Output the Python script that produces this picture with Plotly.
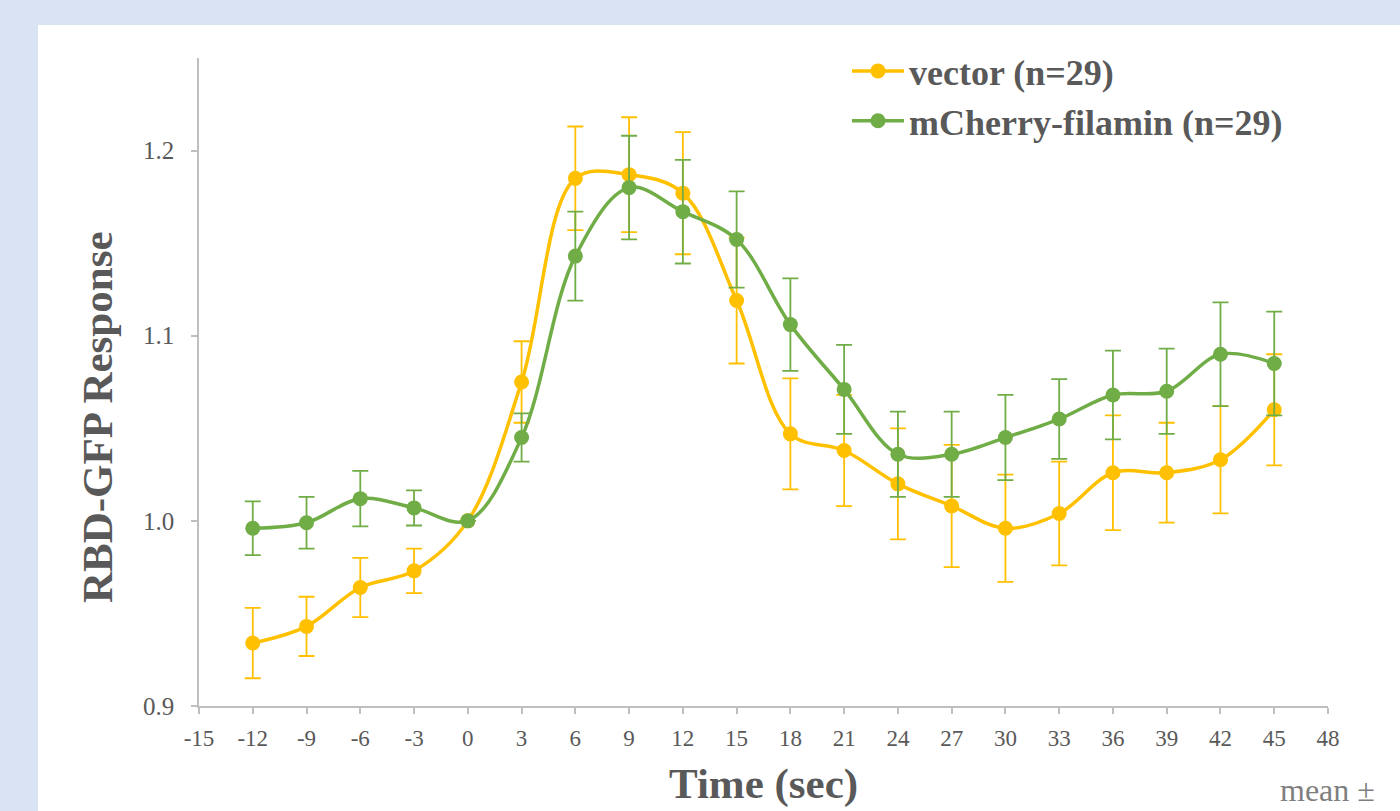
import plotly.graph_objects as go

time_sec = [-12, -9, -6, -3, 0, 3, 6, 9, 12, 15, 18, 21, 24, 27, 30, 33, 36, 39, 42, 45]

vector_mean = [0.934, 0.943, 0.964, 0.973, 1.000, 1.075, 1.185, 1.187, 1.177, 1.119,
               1.047, 1.038, 1.020, 1.008, 0.996, 1.004, 1.026, 1.026, 1.033, 1.060]
vector_err = [0.019, 0.016, 0.016, 0.012, 0.0, 0.022, 0.028, 0.031, 0.033, 0.034,
              0.030, 0.030, 0.030, 0.033, 0.029, 0.028, 0.031, 0.027, 0.029, 0.030]

filamin_mean = [0.996, 0.999, 1.012, 1.007, 1.000, 1.045, 1.143, 1.180, 1.167, 1.152,
                1.106, 1.071, 1.036, 1.036, 1.045, 1.055, 1.068, 1.070, 1.090, 1.085]
filamin_err = [0.0145, 0.014, 0.015, 0.0095, 0.0, 0.013, 0.024, 0.028, 0.028, 0.026,
               0.025, 0.024, 0.023, 0.023, 0.023, 0.0215, 0.024, 0.023, 0.028, 0.028]

series_names = ["vector (n=29)", "mCherry-filamin (n=29)"]
x_ticks = list(range(-15, 49, 3))
y_ticks = [0.9, 1.0, 1.1, 1.2]

YELLOW = "#FFC000"
GREEN = "#70AD47"
GREY = "#595959"
FONT = "Liberation Serif"

W, H = 1400, 811
ML, MR, MT, MB = 199, 72, 58, 105
PW = W - ML - MR
PH = H - MT - MB

fig = go.Figure()
for name, ys, es, col, grp in [
    (series_names[0], vector_mean, vector_err, YELLOW, "a"),
    (series_names[1], filamin_mean, filamin_err, GREEN, "b"),
]:
    fig.add_trace(go.Scatter(
        x=time_sec, y=ys, name="<b>" + name + "</b>", mode="lines+markers",
        legendgroup=grp,
        line=dict(color=col, width=3.5, shape="spline", smoothing=1.0),
        marker=dict(color=col, size=15),
        error_y=dict(type="data", array=es, visible=True, color=col,
                     thickness=1.8, width=8),
    ))

def px_to_paper_x(px):
    return (px - ML) / PW

def px_to_paper_y(py):
    return (H - MB - py) / PH

fig.add_shape(type="rect", xref="paper", yref="paper",
              x0=px_to_paper_x(38), x1=px_to_paper_x(W + 5),
              y0=px_to_paper_y(H + 5), y1=px_to_paper_y(25),
              fillcolor="white", line=dict(width=0), layer="below")

fig.add_annotation(text="<b>Time (sec)</b>", xref="paper", yref="paper",
                   x=px_to_paper_x(763), y=px_to_paper_y(784),
                   xanchor="center", yanchor="middle", showarrow=False,
                   font=dict(family=FONT, size=43, color=GREY))
fig.add_annotation(text="<b>RBD-GFP Response</b>", xref="paper", yref="paper",
                   x=px_to_paper_x(97), y=px_to_paper_y(418),
                   xanchor="center", yanchor="middle", showarrow=False,
                   textangle=-90,
                   font=dict(family=FONT, size=43, color=GREY))
fig.add_annotation(text="mean ±", xref="paper", yref="paper",
                   x=px_to_paper_x(1278), y=px_to_paper_y(790),
                   xanchor="left", yanchor="middle", showarrow=False,
                   font=dict(family=FONT, size=32, color="#7F7F7F"))

fig.update_layout(
    width=W, height=H,
    margin=dict(l=ML, r=MR, t=MT, b=MB, autoexpand=False),
    paper_bgcolor="#DAE3F3",
    plot_bgcolor="white",
    showlegend=True,
    legend=dict(x=px_to_paper_x(847), y=px_to_paper_y(41), xanchor="left", yanchor="top",
                bgcolor="rgba(0,0,0,0)", tracegroupgap=0,
                font=dict(family=FONT, size=36, color=GREY),
                itemwidth=52),
    font=dict(family=FONT, color=GREY),
    xaxis=dict(range=[-15, 48], tickmode="array", tickvals=x_ticks,
               ticktext=[str(v) for v in x_ticks],
               showgrid=False, zeroline=False, showline=True,
               linecolor="#BFBFBF", linewidth=1.5,
               ticks="outside", ticklen=6, tickcolor="#BFBFBF", tickwidth=1.5,
               ticklabelstandoff=5,
               tickfont=dict(family=FONT, size=23, color=GREY)),
    yaxis=dict(range=[0.9, 1.25], tickmode="array", tickvals=y_ticks,
               ticktext=[f"{v:.1f}" for v in y_ticks],
               showgrid=False, zeroline=False, showline=True,
               linecolor="#BFBFBF", linewidth=1.5,
               ticks="outside", ticklen=6, tickcolor="#BFBFBF", tickwidth=1.5,
               ticklabelstandoff=12,
               tickfont=dict(family=FONT, size=25, color=GREY)),
)

fig.write_html("out.html", config={"displayModeBar": False},
               post_script="document.body.style.margin='0';")
